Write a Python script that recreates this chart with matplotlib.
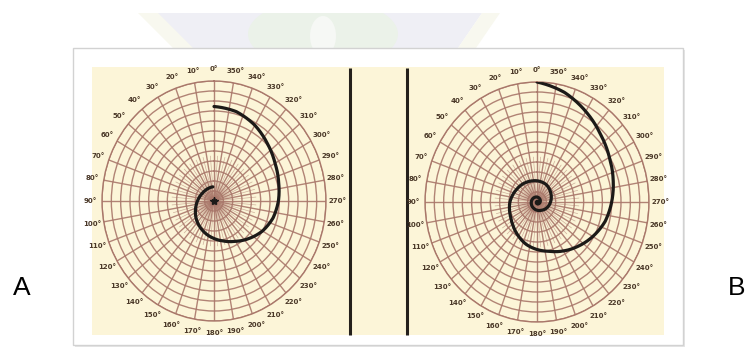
import numpy as np
import matplotlib
matplotlib.use("Agg")
import matplotlib.pyplot as plt
from matplotlib.patches import Rectangle, Polygon, Ellipse, PathPatch
from matplotlib.path import Path

W, H = 746, 348

# Spiral A: bearing (deg, counter-clockwise from north) and radius in grid rings
spiral_a_theta = [360, 345, 330, 315, 300, 285, 270, 255, 240, 225, 210, 195, 180,
                  165, 150, 135, 120, 105, 90, 75, 60, 45, 30, 15, 5]
spiral_a_r = [9.45, 9.25, 8.75, 8.10, 7.55, 7.17, 6.90, 6.55, 6.00, 5.30, 4.65, 4.15,
              3.75, 3.38, 3.00, 2.65, 2.30, 2.00, 1.77, 1.60, 1.48, 1.42, 1.40, 1.41, 1.42]

# Spiral B: same convention, winding further into the centre
spiral_b_theta = [360, 345, 330, 315, 300, 285, 270, 255, 240, 225, 210, 195, 180,
                  165, 150, 135, 120, 105, 90, 75, 60, 45, 30, 15, 0,
                  -30, -60, -90, -120, -150, -180, -210, -240, -270, -300, -330,
                  -360, -420, -480, -540]
spiral_b_r = [12.0, 11.35, 10.45, 9.60, 8.95, 8.45, 8.00, 7.55, 6.90, 6.25, 5.65, 5.10,
              4.75, 4.40, 3.95, 3.55, 3.22, 3.05, 2.90, 2.70, 2.52, 2.40, 2.28, 2.18, 2.12,
              2.00, 1.72, 1.45, 1.20, 0.95, 0.82, 0.72, 0.66, 0.61, 0.57, 0.53,
              0.50, 0.40, 0.28, 0.15]

ring_radii = list(range(1, 13))
bearing_ticks = list(range(0, 360, 10))
bearing_labels = [f"{b}°" for b in bearing_ticks]
panel_names = ["A", "B"]

CREAM = "#fcf5d8"
GRID = "#a9776a"
INK = "#1c1a18"

fig = plt.figure(figsize=(W / 100, H / 100), dpi=100)
fig.patch.set_facecolor("white")

# page furniture drawn in pixel coordinates
bg = fig.add_axes([0, 0, 1, 1], zorder=0)
bg.set_xlim(0, W)
bg.set_ylim(H, 0)
bg.axis("off")

band = Rectangle((0, 13), W, 35, transform=bg.transData)
for patch in [
    Polygon([(152, 13), (482, 13), (458, 48), (188, 48)], closed=True,
            fc="#efeff5", ec="none"),
    Polygon([(138, 13), (158, 13), (193, 48), (173, 48)], closed=True,
            fc="#f8f8ef", ec="none"),
    Polygon([(482, 13), (500, 13), (476, 48), (458, 48)], closed=True,
            fc="#f8f8ef", ec="none"),
    Ellipse((323, 34), 150, 70, fc="#ebf2e9", ec="none"),
    Ellipse((323, 36), 26, 40, fc="#f6f8f5", ec="none"),
]:
    bg.add_patch(patch)
    patch.set_clip_path(band)

bg.add_patch(Rectangle((75, 50), 610, 297, fc="#e6e6e6", ec="none"))
bg.add_patch(Rectangle((73, 48), 610, 297, fc="white", ec="#d2d2d2", lw=1.0))
bg.add_patch(Rectangle((92, 67), 572, 268, fc=CREAM, ec="none"))
for x in (350, 407):
    bg.plot([x, x], [68, 335], color="#24201c", lw=2.2, solid_capstyle="butt")

bg.text(22, 288, panel_names[0], fontsize=19, family="Liberation Sans",
        ha="center", va="center", color="black")
bg.text(737, 288, panel_names[1], fontsize=19, family="Liberation Sans",
        ha="center", va="center", color="black")

RX, RY = 112, 120
centres = [(214, 201), (537, 202)]
spirals = [(spiral_a_theta, spiral_a_r), (spiral_b_theta, spiral_b_r)]

for (cx, cy), (th, rr), idx in zip(centres, spirals, range(2)):
    rect = [(cx - RX) / W, (H - cy - RY) / H, 2 * RX / W, 2 * RY / H]
    ax = fig.add_axes(rect, projection="polar", zorder=2)
    ax.set_aspect("auto")
    ax.set_facecolor(CREAM)
    ax.set_theta_zero_location("N")
    ax.set_theta_direction(1)
    ax.set_ylim(0, max(ring_radii))
    ax.set_rgrids(ring_radii, labels=[""] * len(ring_radii))
    ax.set_xticks(np.deg2rad(bearing_ticks))
    ax.set_xticklabels(bearing_labels, fontsize=5.0, color="#4a3828",
                       family="DejaVu Sans", fontweight="bold")
    ax.tick_params(axis="x", pad=1.5, length=0)
    ax.grid(True, color=GRID, lw=1.0, alpha=0.9)
    ax.spines["polar"].set_color(GRID)
    ax.spines["polar"].set_linewidth(1.0)

    # finer spokes packed around the pole
    for b in range(5, 360, 10):
        ax.plot([np.deg2rad(b)] * 2, [0, 4.5], color=GRID, lw=0.5, alpha=0.55)

    # the spiral, interpolated in (theta, r) by the polar transform
    verts = np.column_stack([np.deg2rad(th), rr])
    curve = PathPatch(Path(verts, _interpolation_steps=40), fill=False,
                      ec=INK, lw=2.3, capstyle="round", joinstyle="round",
                      transform=ax.transData, zorder=5)
    ax.add_patch(curve)
    if idx == 0:
        ax.plot([0], [0], marker="*", ms=6, color=INK, zorder=6)
    else:
        ax.plot([0], [0], marker="o", ms=3, color=INK, zorder=6)

fig.savefig("out.png", dpi=100, facecolor="white")
